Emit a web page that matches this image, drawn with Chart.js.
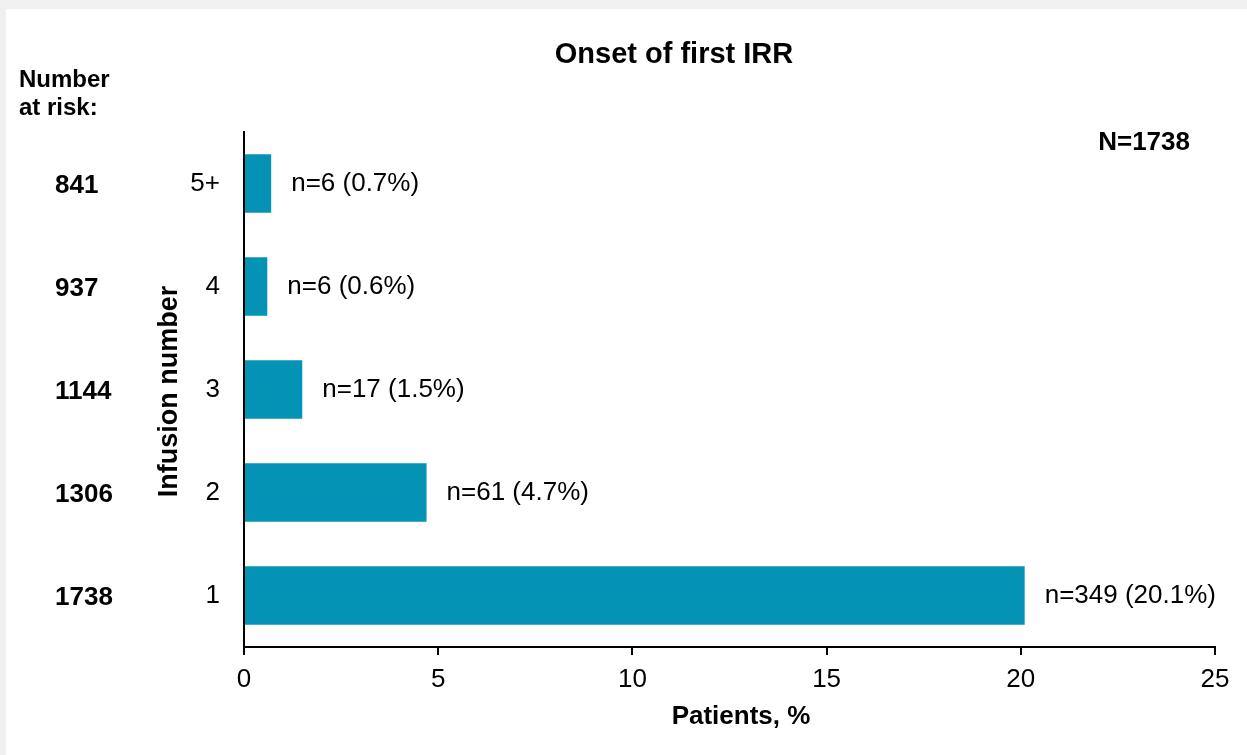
<!DOCTYPE html>
<html>
<head>
<meta charset="utf-8">
<script src="https://cdn.jsdelivr.net/npm/chart.js@4/dist/chart.umd.min.js"></script>
<style>
  html, body { margin: 0; padding: 0; background: #f0f0f0; }
  #panel { position: absolute; left: 6px; top: 9px; width: 1241px; height: 746px; background: #fff; }
  canvas { display: block; }
</style>
</head>
<body>
<div id="panel"><canvas id="irrChart" width="1241" height="746"></canvas></div>
<script>
// infusion number, bottom to top
const infusions = ['1', '2', '3', '4', '5+'];
const pctPatients = [20.1, 4.7, 1.5, 0.6, 0.7];
const nPatients = [349, 61, 17, 6, 6];
const atRisk = [1738, 1306, 1144, 937, 841];
const xTicks = [0, 5, 10, 15, 20, 25];
const totalN = 1738;

const FONT = '"Liberation Sans", Arial, sans-serif';
const BAR_COLOR = '#0593b5';

// extra text: title, number-at-risk column, axis titles and bar labels
const annotations = {
  id: 'annotations',
  afterDraw(chart) {
    const ctx = chart.ctx;
    const xs = chart.scales.x, ys = chart.scales.y;
    const area = chart.chartArea;
    ctx.save();
    ctx.fillStyle = '#000';
    ctx.textBaseline = 'middle';

    ctx.font = 'bold 29px ' + FONT;
    ctx.textAlign = 'center';
    ctx.fillText('Onset of first IRR', 668, 46);

    ctx.font = 'bold 26px ' + FONT;
    ctx.textAlign = 'right';
    ctx.fillText('N=' + totalN, 1184, 134);

    ctx.font = 'bold 24px ' + FONT;
    ctx.textAlign = 'left';
    ctx.fillText('Number', 13, 71);
    ctx.fillText('at risk:', 13, 99);
    ctx.font = 'bold 26px ' + FONT;
    atRisk.forEach((v, i) => {
      ctx.fillText(String(v), 49, ys.getPixelForValue(i) + 2);
    });

    ctx.font = '26px ' + FONT;
    pctPatients.forEach((v, i) => {
      const x = xs.getPixelForValue(v) + 20;
      ctx.fillText('n=' + nPatients[i] + ' (' + v.toFixed(1) + '%)', x, ys.getPixelForValue(i));
    });

    ctx.font = 'bold 26px ' + FONT;
    ctx.textAlign = 'center';
    ctx.fillText('Patients, %', 735, 708);

    ctx.font = 'bold 27px ' + FONT;
    ctx.translate(164, (area.top + area.bottom) / 2 + 2);
    ctx.rotate(-Math.PI / 2);
    ctx.fillText('Infusion number', 0, 0);
    ctx.restore();
  }
};

new Chart(document.getElementById('irrChart'), {
  type: 'bar',
  data: {
    labels: infusions,
    datasets: [{
      data: pctPatients,
      backgroundColor: BAR_COLOR,
      borderWidth: 0,
      categoryPercentage: 1,
      barPercentage: 0.57
    }]
  },
  options: {
    indexAxis: 'y',
    responsive: false,
    animation: false,
    layout: { padding: { top: 123, right: 32, bottom: 0, left: 0 } },
    plugins: { legend: { display: false }, tooltip: { enabled: false } },
    scales: {
      x: {
        min: 0, max: 25,
        afterBuildTicks(scale) { scale.ticks = xTicks.map(v => ({ value: v })); },
        afterFit(scale) { scale.height = 108; },
        border: { display: true, color: '#000', width: 2 },
        grid: { display: true, drawOnChartArea: false, drawTicks: true, tickLength: 8, color: '#000', lineWidth: 2 },
        ticks: { color: '#000', font: { family: FONT, size: 26 }, padding: 9, maxRotation: 0 }
      },
      y: {
        reverse: true,
        afterFit(scale) { scale.width = 238; },
        border: { display: true, color: '#000', width: 2 },
        grid: { display: false, drawTicks: false },
        ticks: { color: '#000', font: { family: FONT, size: 26 }, padding: 24 }
      }
    }
  },
  plugins: [annotations]
});
</script>
</body>
</html>
